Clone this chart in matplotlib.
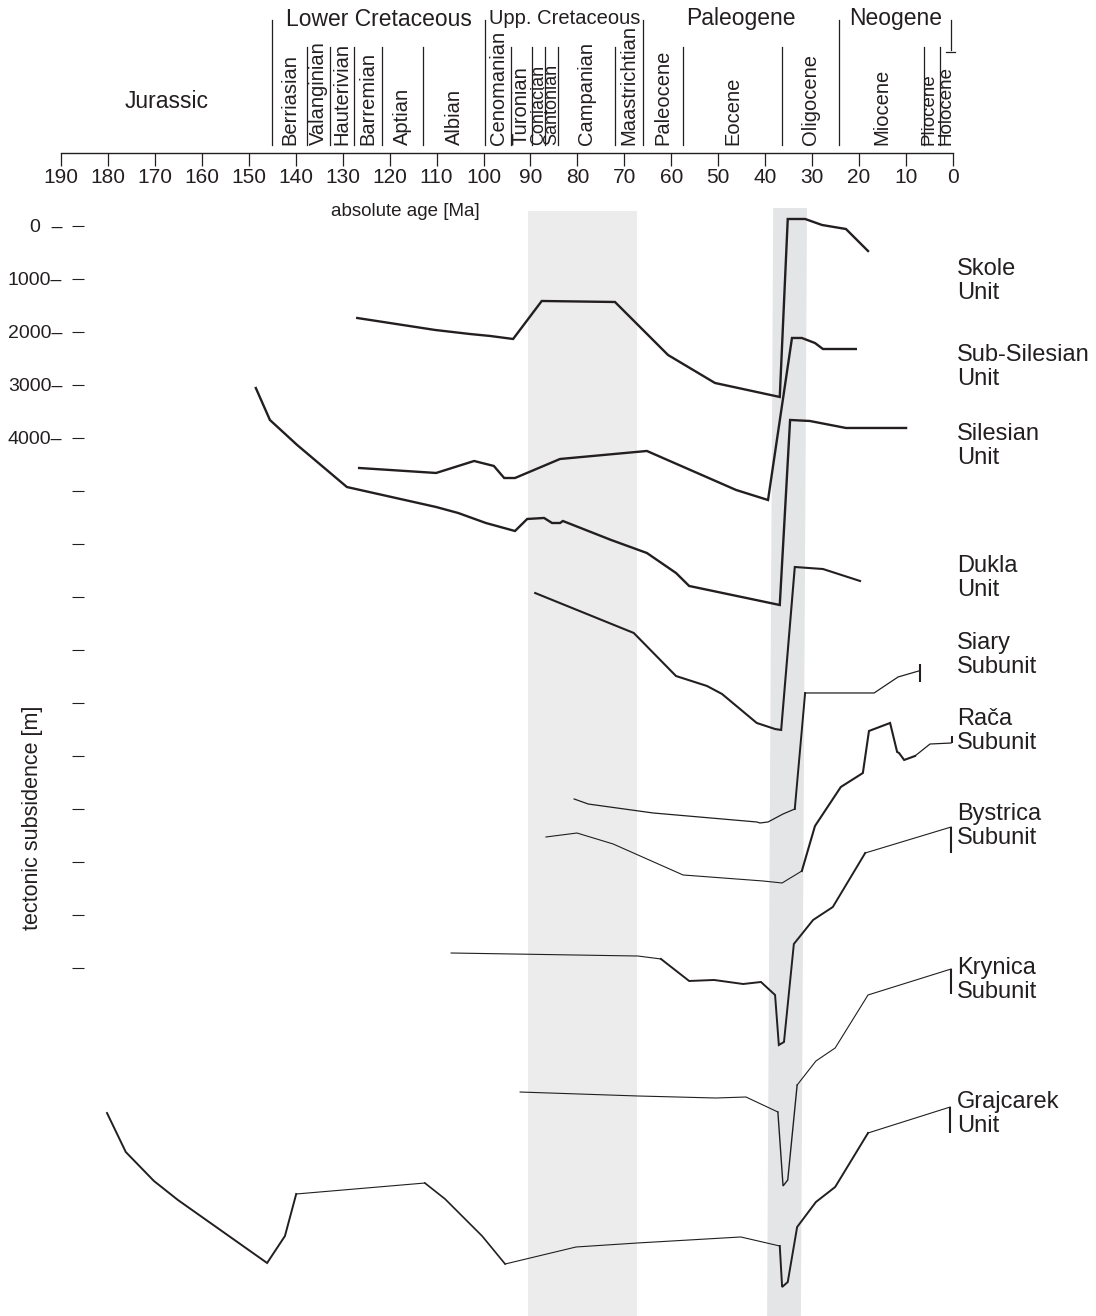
import matplotlib
matplotlib.use('Agg')
import matplotlib.pyplot as plt
import numpy as np

plt.rcParams['font.family'] = ['Liberation Sans', 'DejaVu Sans']
INK = '#231f20'

# --- time scale (Ma) ---
period_names = ['Jurassic', 'Lower Cretaceous', 'Upp. Cretaceous', 'Paleogene', 'Neogene']
period_base = [190.0, 145.0, 99.6, 66.0, 24.3]
period_top = [145.0, 99.6, 66.0, 24.3, 0.0]

stage_names = ['Berriasian', 'Valanginian', 'Hauterivian', 'Barremian', 'Aptian', 'Albian',
               'Cenomanian', 'Turonian', 'Coniacian', 'Santonian', 'Campanian', 'Maastrichtian',
               'Paleocene', 'Eocene', 'Oligocene', 'Miocene', 'Pliocene', 'Holocene']
stage_base = [145.0, 137.7, 132.7, 127.6, 121.7, 112.9, 99.6, 94.2, 89.7, 86.8, 84.2, 72.1,
              66.0, 57.5, 36.4, 24.3, 6.2, 2.8]
stage_top = stage_base[1:] + [0.0]

# grey bands (Ma)
band1 = [90.5, 67.3]
band2_top = [38.3, 31.1]
band2_bot = [39.6, 32.4]

# --- subsidence curves: age [Ma], tectonic subsidence [m] ---
skole_age = [126.9, 110.3, 102.9, 98.6, 93.7, 87.6, 72.0, 65.6, 60.7, 50.7, 36.9, 35.2, 31.5, 27.9, 22.8, 18.1]
skole_sub = [1736, 1962, 2038, 2075, 2132, 1415, 1434, 2000, 2434, 2962, 3226, -132, -132, -19, 57, 472]

subsil_age = [126.5, 110.1, 102.0, 97.8, 95.6, 93.3, 83.7, 65.2, 46.2, 39.4, 34.3, 32.2, 29.4, 27.7, 20.7]
subsil_sub = [4566, 4660, 4434, 4528, 4755, 4755, 4396, 4245, 4981, 5170, 2113, 2113, 2208, 2321, 2321]

silesian_age = [148.5, 145.5, 139.7, 129.1, 110.1, 105.4, 99.5, 93.3, 90.7, 87.1, 85.4, 83.7, 83.1,
                72.8, 65.2, 59.0, 56.2, 36.9, 34.7, 30.5, 22.8, 10.0]
silesian_sub = [3057, 3660, 4132, 4925, 5302, 5415, 5604, 5755, 5528, 5509, 5604, 5604, 5566,
                5925, 6170, 6547, 6792, 7151, 3660, 3679, 3811, 3811]

dukla_age = [89.0, 68.0, 59.0, 52.4, 49.2, 41.8, 37.9, 36.6, 33.7, 27.7, 19.8]
dukla_sub = [6925, 7679, 8491, 8679, 8830, 9377, 9491, 9509, 6434, 6472, 6698]

siary_age = [80.7, 77.7, 63.9, 41.8, 41.1, 39.4, 36.2, 33.7, 31.5, 16.8, 11.7, 7.3]
siary_sub = [10811, 10906, 11075, 11245, 11264, 11245, 11094, 11000, 8811, 8811, 8509, 8396]

raca_age = [86.7, 80.1, 72.4, 57.5, 40.5, 36.4, 32.2, 29.4, 23.9, 19.2, 17.9, 13.4, 11.9, 11.5,
            10.4, 8.1, 4.9, 0.4]
raca_sub = [11528, 11453, 11660, 12245, 12358, 12396, 12170, 11321, 10585, 10321, 9528, 9377,
            9924, 9943, 10075, 10000, 9774, 9755]

bystrica_age = [106.9, 67.1, 62.2, 56.2, 50.9, 44.7, 40.9, 37.9, 37.1, 36.0, 33.9, 29.8, 25.6, 18.7, 0.4]
bystrica_sub = [13717, 13774, 13830, 14245, 14226, 14302, 14264, 14509, 15453, 15396, 13547,
                13094, 12849, 11830, 11340]

krynica_age = [92.2, 67.1, 50.5, 44.1, 37.3, 36.2, 35.2, 33.2, 29.2, 25.1, 18.1, 0.4]
krynica_sub = [16340, 16415, 16453, 16434, 16717, 18113, 18000, 16208, 15755, 15509, 14509, 14019]

grajcarek_age = [180.2, 176.2, 170.2, 165.1, 146.1, 142.3, 139.9, 112.5, 108.2, 100.3, 95.4, 80.3,
                 67.3, 45.2, 36.9, 36.4, 35.2, 33.2, 29.2, 25.1, 18.1, 0.6]
grajcarek_sub = [16736, 17472, 18019, 18377, 19566, 19057, 18264, 18057, 18358, 19057, 19585, 19264,
                 19189, 19075, 19245, 20019, 19925, 18887, 18415, 18132, 17113, 16623]

# end bars at the young end of the subunit curves: age, top, bottom
bar_age = [7.0, 0.2, 0.4, 0.4, 0.6]
bar_top = [8264, 9620, 11340, 14020, 16620]
bar_bot = [8604, 9755, 11830, 14490, 17110]

unit_labels = ['Skole\nUnit', 'Sub-Silesian\nUnit', 'Silesian\nUnit', 'Dukla\nUnit', 'Siary\nSubunit',
               'Rača\nSubunit', 'Bystrica\nSubunit', 'Krynica\nSubunit', 'Grajcarek\nUnit']

y_ticks = list(range(0, 15000, 1000))
y_ticklabels = ['0  –', '1000–', '2000–', '3000–', '4000–'] + [''] * 10
x_ticks = list(range(190, -1, -10))

# (start index, end index, linewidth) pieces of each curve
curves = [
    (skole_age, skole_sub, [(0, 15, 1.7)]),
    (subsil_age, subsil_sub, [(0, 14, 1.7)]),
    (silesian_age, silesian_sub, [(0, 21, 1.7)]),
    (dukla_age, dukla_sub, [(0, 10, 1.5)]),
    (siary_age, siary_sub, [(0, 7, 0.9), (7, 8, 1.4), (8, 11, 0.9)]),
    (raca_age, raca_sub, [(0, 6, 0.8), (6, 15, 1.5), (15, 17, 0.9)]),
    (bystrica_age, bystrica_sub, [(0, 2, 0.8), (2, 13, 1.4), (13, 14, 0.8)]),
    (krynica_age, krynica_sub, [(0, 4, 0.8), (4, 7, 1.0), (7, 11, 0.8)]),
    (grajcarek_age, grajcarek_sub, [(0, 6, 1.4), (6, 7, 0.8), (7, 10, 1.2), (10, 14, 0.8),
                                    (14, 20, 1.4), (20, 21, 0.8)]),
]
label_y = [1038, 2660, 4151, 6642, 8094, 9528, 11321, 14226, 16755]

W, H = 1096, 1316
fig = plt.figure(figsize=(W / 100, H / 100), dpi=100)
left, width = 61 / W, (953 - 61) / W

# ---------------- time scale on top ----------------
tax = fig.add_axes([left, 1 - 153 / H, width, 153 / H])
tax.set_xlim(190, 0)
tax.set_ylim(0, 153)
tax.patch.set_alpha(0)
for s in ['top', 'left', 'right']:
    tax.spines[s].set_visible(False)
tax.spines['bottom'].set_color(INK)
tax.spines['bottom'].set_linewidth(1.0)
tax.set_yticks([])
tax.set_xticks(x_ticks)
tax.tick_params(axis='x', direction='out', length=9.5, width=0.9, colors=INK,
                labelsize=15, pad=1.5)

tall = set(period_base[1:])
for b in stage_base:
    tax.plot([b, b], [8, 133 if b in tall else 106], color=INK, lw=0.9)
tax.plot([0.5, 0.5], [103, 133], color=INK, lw=0.9)
tax.plot([1.5, -0.5], [101, 101], color=INK, lw=0.9, clip_on=False)

# squeezed names in the narrow stages
small = {'Coniacian': 13, 'Santonian': 13, 'Pliocene': 13.5, 'Holocene': 13.5}
shift = {'Pliocene': 0.6}
for name, a0, a1 in zip(stage_names, stage_base, stage_top):
    tax.text((a0 + a1) / 2 + shift.get(name, 0), 8, name, rotation=90, ha='center',
             va='bottom', fontsize=small.get(name, 14.5), color=INK)

for name, a0, a1 in zip(period_names, period_base, period_top):
    y = 52 if name == 'Jurassic' else 134
    fs = 14.5 if name.startswith('Upp') else 16.5
    tax.text((a0 + a1) / 2, y, name, ha='center', va='center', fontsize=fs, color=INK)

fig.text(405 / W, 1 - 211 / H, 'absolute age [Ma]', ha='center', va='center',
         fontsize=13.5, color=INK)

# ---------------- subsidence curves ----------------
ax = fig.add_axes([left, 0, width, (H - 205) / H])
ax.set_xlim(190, 0)
ax.set_ylim(20566, -396)
for s in ['top', 'right', 'bottom']:
    ax.spines[s].set_visible(False)
ax.spines['left'].set_color('none')
ax.spines['left'].set_position(('data', 185.1))
ax.set_xticks([])
ax.set_yticks(y_ticks)
ax.set_yticklabels(y_ticklabels)
ax.tick_params(axis='y', direction='out', length=8.6, width=0.8, colors=INK,
               labelsize=14, pad=7)

ax.fill_betweenx([-280, 20566], band1[0], band1[1], color='#ececec', lw=0, zorder=0)
ax.fill([band2_top[0], band2_top[1], band2_bot[1], band2_bot[0]],
        [-340, -340, 20566, 20566], color='#e4e5e7', lw=0, zorder=0)

for age, sub, pieces in curves:
    for i0, i1, lw in pieces:
        ax.plot(age[i0:i1 + 1], sub[i0:i1 + 1], color=INK, lw=lw,
                solid_joinstyle='miter', zorder=2)

ax.vlines(bar_age, bar_top, bar_bot, color=INK, lw=1.5, zorder=2)

for txt, y in zip(unit_labels, label_y):
    ax.text(-0.8, y, txt, ha='left', va='center', fontsize=17, linespacing=1.17,
            color=INK, clip_on=False)

fig.text(33 / W, 1 - 818 / H, 'tectonic subsidence [m]', rotation=90, ha='center',
         va='center', fontsize=15.5, color=INK)

fig.savefig('out.png', dpi=100)
